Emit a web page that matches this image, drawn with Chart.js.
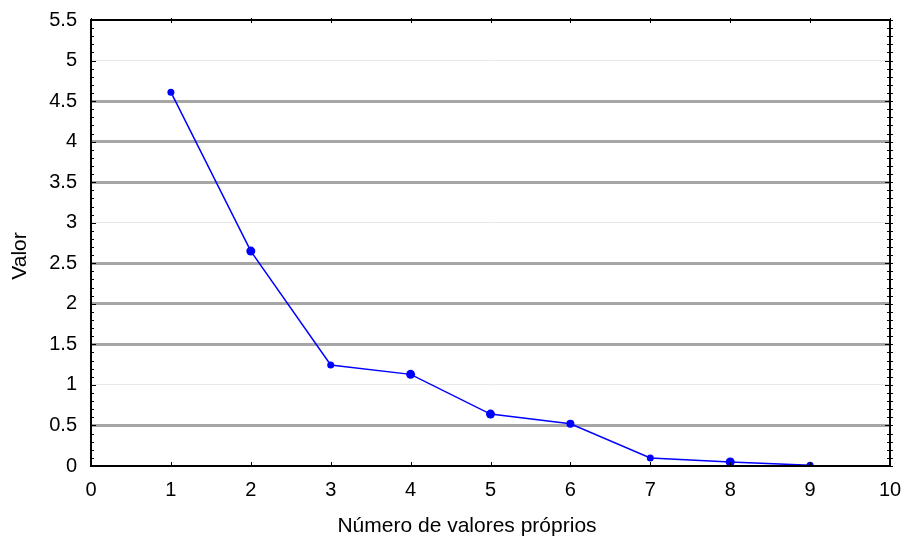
<!DOCTYPE html>
<html>
<head>
<meta charset="utf-8">
<script src="https://cdn.jsdelivr.net/npm/chart.js@4"></script>
<style>
  body { margin: 0; background: #fff; }
  #wrap { width: 905px; height: 537px; }
</style>
</head>
<body>
<div id="wrap"><canvas id="Scree"></canvas></div>
<script>
// eigenvalue number and value
var eigenNr = [1, 2, 3, 4, 5, 6, 7, 8, 9];
var eigenVal = [4.61, 2.65, 1.245, 1.13, 0.64, 0.52, 0.10, 0.05, 0.01];
var xTitle = "Número de valores próprios";
var yTitle = "Valor";
// grid lines drawn light instead of dark gray
var lightLines = [1, 3, 5];

var pts = eigenNr.map(function (n, i) { return { x: n, y: eigenVal[i] }; });

// frame + small tick marks + axis titles, like the original software draws
var framePlugin = {
  id: 'frame',
  afterDatasetsDraw: function (chart) {
    var ctx = chart.ctx, a = chart.chartArea;
    var xs = chart.scales.x, ys = chart.scales.y;
    ctx.save();
    ctx.strokeStyle = '#000';
    ctx.lineWidth = 1;
    ctx.beginPath();
    for (var v = 0; v <= 55; v++) {
      var y = Math.round(ys.getPixelForValue(v / 10)) + 0.5;
      var len = (v % 5 === 0) ? 5 : 3;
      ctx.moveTo(a.left, y); ctx.lineTo(a.left + len, y);
      ctx.moveTo(a.right - len, y); ctx.lineTo(a.right + 3, y);
    }
    for (var k = 0; k <= 10; k++) {
      var x = Math.round(xs.getPixelForValue(k)) + 0.5;
      ctx.moveTo(x, a.bottom); ctx.lineTo(x, a.bottom - 4);
      ctx.moveTo(x, a.top - 2); ctx.lineTo(x, a.top + 3);
    }
    ctx.stroke();
    ctx.lineWidth = 2;
    ctx.strokeRect(a.left, a.top, a.right - a.left, a.bottom - a.top);

    // axis titles
    ctx.fillStyle = '#000';
    ctx.font = '21px "Liberation Sans"';
    ctx.textAlign = 'center';
    ctx.textBaseline = 'middle';
    ctx.fillText(xTitle, 467, 526);
    ctx.translate(20, 256);
    ctx.rotate(-Math.PI / 2);
    ctx.fillText(yTitle, 0, 0);
    ctx.restore();
  }
};

var fnt = { family: 'Liberation Sans', size: 20 };

var ctx = document.getElementById("Scree").getContext('2d');
var myChart = new Chart(ctx, {
  type: 'line',
  data: {
    datasets: [{
      data: pts,
      borderColor: '#0000ff',
      backgroundColor: '#0000ff',
      borderWidth: 1.5,
      pointRadius: [3.5, 4.5, 3.5, 4.5, 4.5, 4, 3.5, 4.5, 3.5],
      pointBorderWidth: 0,
      tension: 0
    }]
  },
  options: {
    responsive: true,
    maintainAspectRatio: false,
    animation: false,
    layout: { padding: { top: 20, right: 15, left: 0, bottom: 0 } },
    plugins: { legend: { display: false }, tooltip: { enabled: false } },
    scales: {
      x: {
        type: 'linear',
        min: 0, max: 10,
        afterFit: function (s) { s.height = 71; s.paddingLeft = 0; s.paddingRight = 0; },
        ticks: { stepSize: 1, color: '#000', padding: 12, font: fnt },
        grid: { color: 'rgba(0,0,0,0)', drawTicks: false },
        border: { display: false }
      },
      y: {
        min: 0, max: 5.5,
        afterFit: function (s) { s.width = 91; s.paddingTop = 0; s.paddingBottom = 0; },
        ticks: {
          stepSize: 0.5, color: '#000', padding: 14, font: fnt,
          callback: function (v) { return String(v); }
        },
        grid: {
          drawTicks: false,
          color: function (c) {
            if (!c.tick) return 'rgba(0,0,0,0)';
            var v = c.tick.value;
            if (v === 0 || v === 5.5) return 'rgba(0,0,0,0)';
            return lightLines.indexOf(v) >= 0 ? '#e8e8e8' : '#a6a6a6';
          },
          lineWidth: function (c) {
            if (!c.tick) return 1;
            return lightLines.indexOf(c.tick.value) >= 0 ? 1 : 3;
          }
        },
        border: { display: false }
      }
    }
  },
  plugins: [framePlugin]
});
</script>
</body>
</html>
